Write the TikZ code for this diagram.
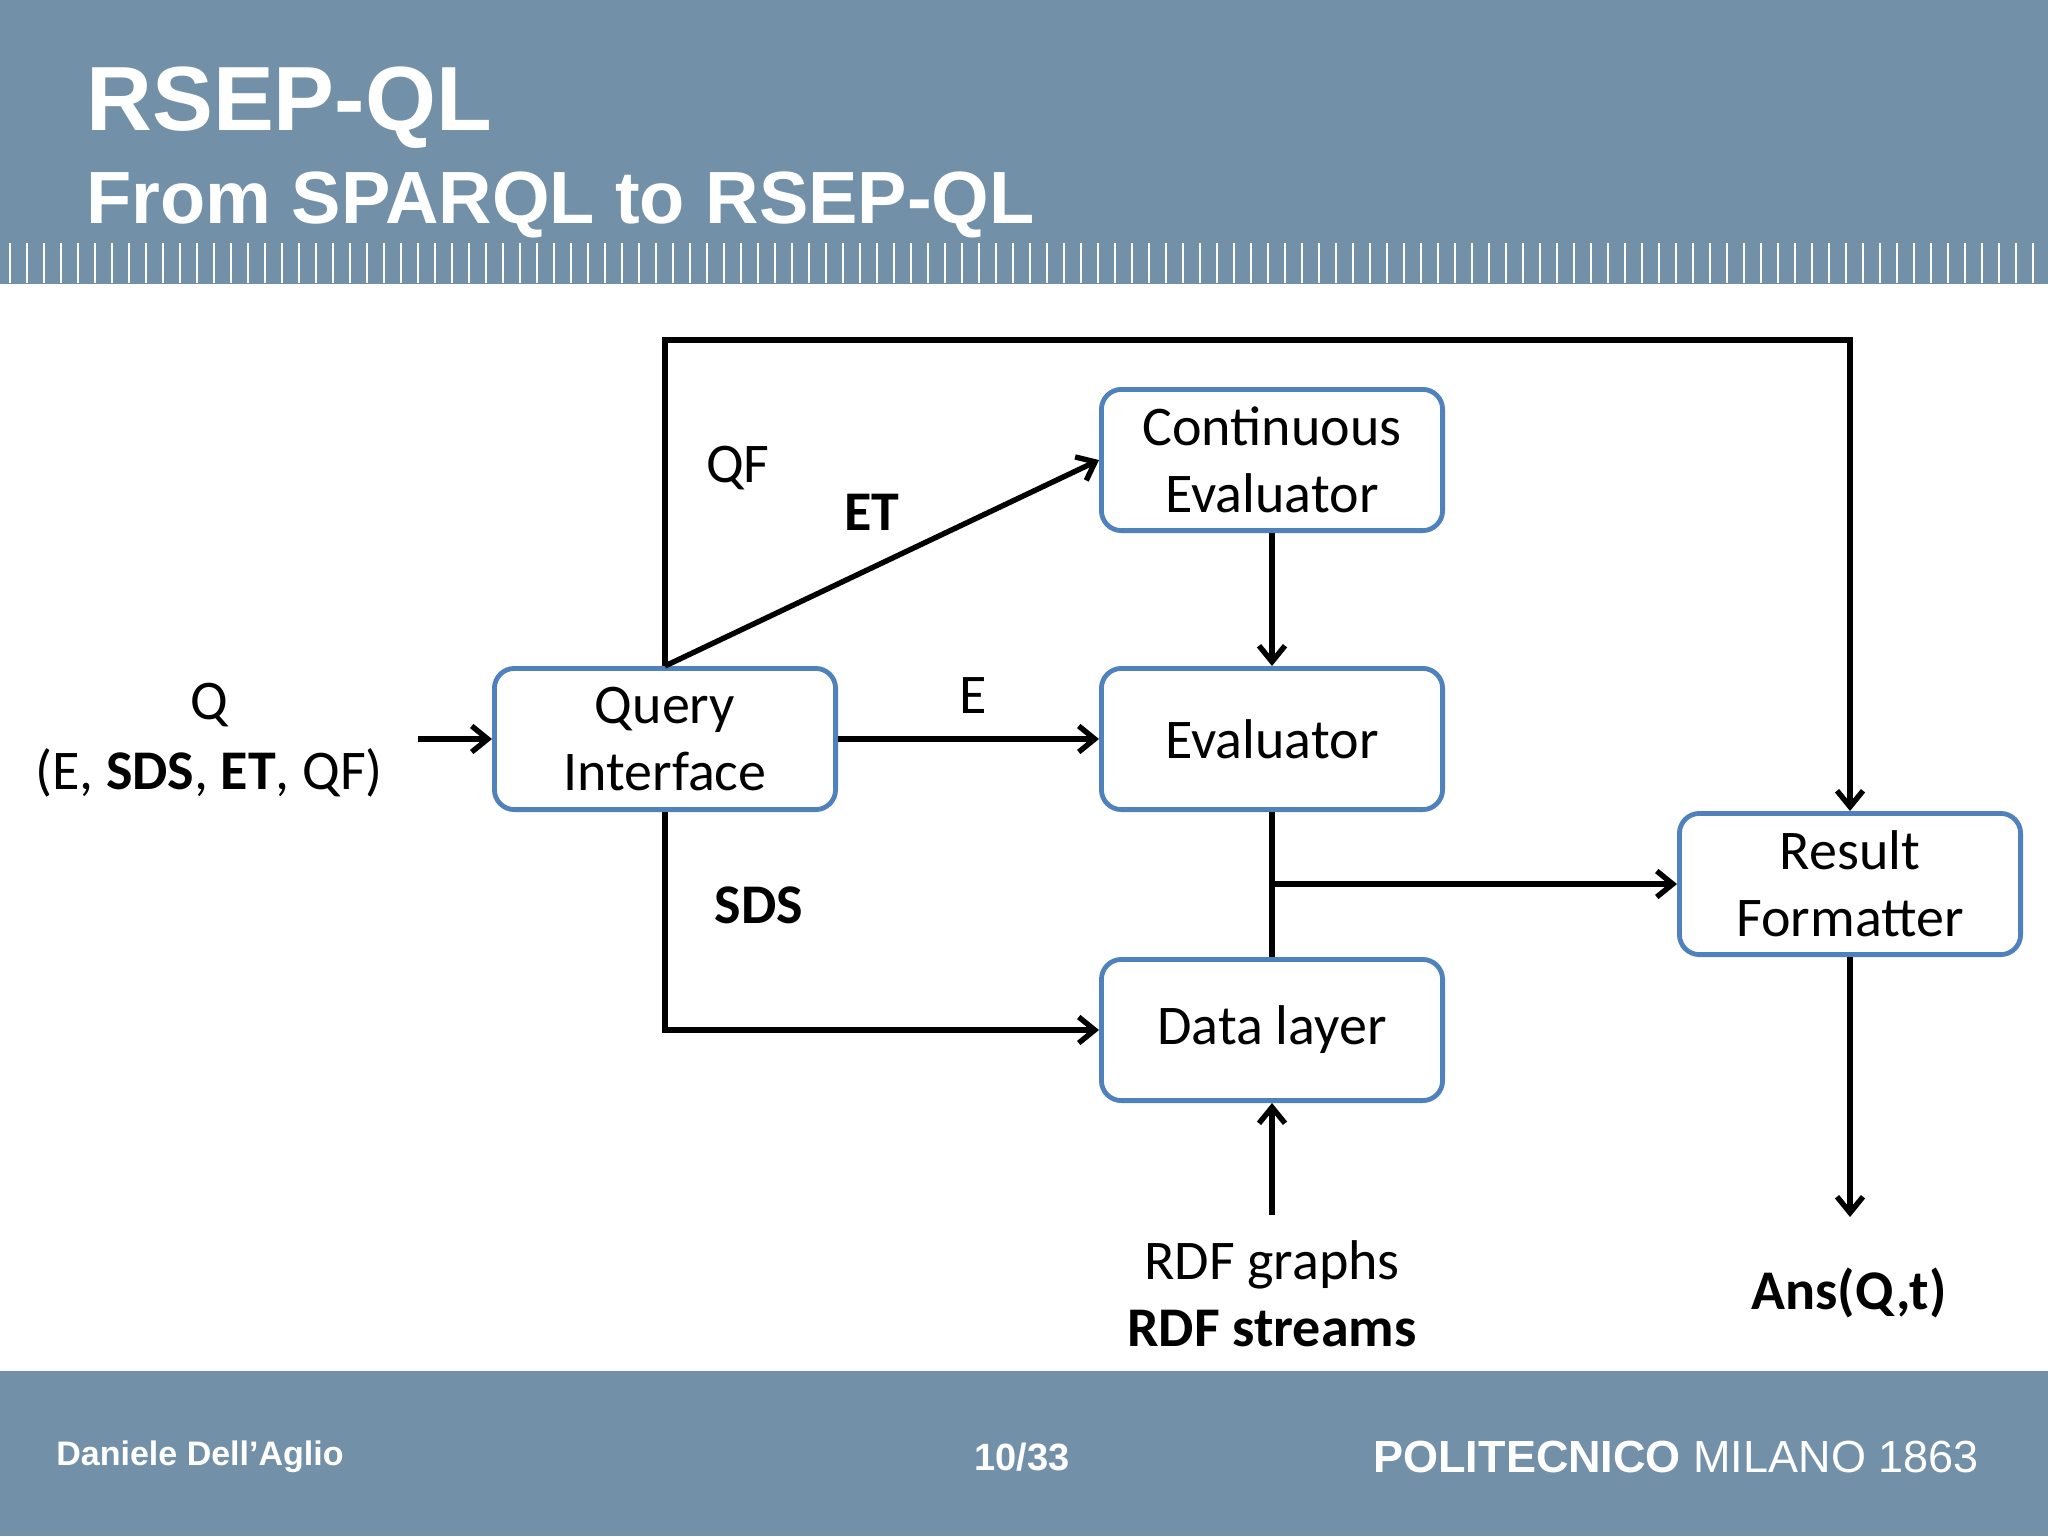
\documentclass[tikz,border=0pt]{standalone}
\usepackage{fontspec}
\setmainfont{Carlito}
\newfontfamily\arialfont{Liberation Sans}
\usepackage{xcolor}
\usetikzlibrary{arrows.meta}
\definecolor{slidebar}{HTML}{7390A9}
\definecolor{boxblue}{HTML}{4F81BD}

\begin{document}
\begin{tikzpicture}[x=0.5pt,y=-0.5pt,
    block/.style={rectangle, rounded corners=10pt, draw=boxblue, line width=2.4pt, fill=white,
      minimum width=170.6pt, minimum height=70.6pt, align=center, font=\fontsize{28}{33.5}\selectfont},
    lbl/.style={align=center, font=\fontsize{28}{33.5}\selectfont},
    foot/.style={inner sep=0pt, text=white, font=\arialfont\bfseries\fontsize{17}{20}\selectfont},
    link/.style={line width=2.7pt, -{Straight Barb[length=8pt,width=13pt]}}]
      \useasboundingbox (0,0) rectangle (2048,1536);
      % slide frame
      \fill[slidebar] (0,0) rectangle (2048,284);
      \fill[slidebar] (0,1371) rectangle (2048,1536);
      \foreach \i in {0,...,119}
        \fill[white] ({8.7+17*\i},243) rectangle +(2.7,40);
      \node [anchor=base west, inner sep=0pt, text=white, font=\arialfont\bfseries\fontsize{45.6}{50}\selectfont] (title) at (86,131) {RSEP-QL};
      \node [anchor=base west, inner sep=0pt, text=white, font=\arialfont\bfseries\fontsize{37}{40}\selectfont] (subtitle) at (86,223) {From SPARQL to RSEP-QL};
      \node [foot, anchor=west] (author) at (56,1457) {Daniele Dell’Aglio};
      \node [foot, font=\arialfont\bfseries\fontsize{19}{22}\selectfont] (page) at (1022,1457) {10/33};
      \node [foot, anchor=east, font=\arialfont\fontsize{22.5}{26}\selectfont] (polimi) at (1979,1457) {\textbf{POLITECNICO} MILANO 1863};
      % blocks
      \node [block] (qi) at (665,739) {Query\\Interface};
      \node [block] (ceval) at (1272,460) {Continuous\\Evaluator};
      \node [block] (eval) at (1272,739) {Evaluator};
      \node [block] (data) at (1272,1030) {Data layer};
      \node [block] (fmt) at (1850,884) {Result\\Formatter};
      \coordinate (toprail) at (0,340);
      \coordinate (qin) at (418,739);
      \coordinate (rdfin) at (1272,1215);
      \coordinate (ansout) at (1850,1217);
      % connectors
      \draw [link] (qi.north) -- (qi.north |- toprail) -| (fmt.north);
      \draw [link] (qi.north) -- (ceval.west);
      \draw [link] (qi.east) -- (eval.west);
      \draw [link] (qi.south) |- (data.west);
      \draw [link] (ceval.south) -- (eval.north);
      \draw [line width=2.7pt] (eval.south) -- (data.north);
      \draw [link] (eval.south |- fmt.west) -- (fmt.west);
      \draw [link] (rdfin) -- (data.south);
      \draw [link] (fmt.south) -- (ansout);
      \draw [link] (qin) -- (qi.west);
      % labels
      \node [lbl] (qname) at (209,705) {Q};
      \node [lbl] (qargs) at (209,773) {(E, \textbf{SDS}, \textbf{ET}, QF)};
      \node [lbl] (qf) at (738,468) {QF};
      \node [lbl] (et) at (872,512) {\textbf{ET}};
      \node [lbl] (e) at (973,696) {E};
      \node [lbl] (sds) at (759,905) {\textbf{SDS}};
      \node [lbl] (rdf) at (1272,1294) {RDF graphs\\\textbf{RDF streams}};
      \node [lbl] (ans) at (1849,1293) {\textbf{Ans(Q,t)}};
    \end{tikzpicture}
\end{document}
